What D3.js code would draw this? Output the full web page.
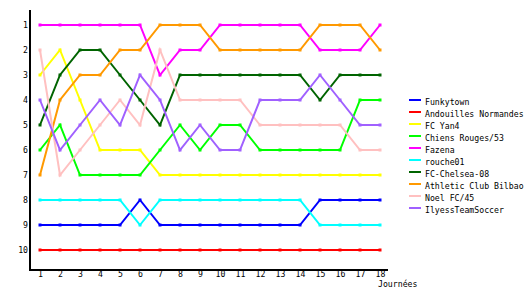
<!DOCTYPE html>
<html><head><meta charset="utf-8">
<script src="https://cdn.jsdelivr.net/npm/d3@7"></script>
<style>body{margin:0;background:#fff}svg{display:block}text{font-family:"DejaVu Sans Mono",monospace;font-size:8.2px;fill:#000}</style>
</head><body><svg id="c" width="530" height="300"></svg>
<script>
const rounds = d3.range(1, 19);
const teams = ["Funkytown","Andouilles Normandes","FC Yan4","Chiens Rouges/53","Fazena","rouche01","FC-Chelsea-08","Athletic Club Bilbao","Noel FC/45","IlyessTeamSoccer"];
const colors = ["#0000ff","#ff0000","#ffff00","#00ff00","#ff00ff","#00ffff","#006400","#ff9900","#ffc0c0","#a060ff"];
const funkytown = [9,9,9,9,9,8,9,9,9,9,9,9,9,9,8,8,8,8];
const andouilles = [10,10,10,10,10,10,10,10,10,10,10,10,10,10,10,10,10,10];
const fcYan4 = [3,2,4,6,6,6,7,7,7,7,7,7,7,7,7,7,7,7];
const chiensRouges = [6,5,7,7,7,7,6,5,6,5,5,6,6,6,6,6,4,4];
const fazena = [1,1,1,1,1,1,3,2,2,1,1,1,1,1,2,2,2,1];
const rouche01 = [8,8,8,8,8,9,8,8,8,8,8,8,8,8,9,9,9,9];
const chelsea = [5,3,2,2,3,4,5,3,3,3,3,3,3,3,4,3,3,3];
const bilbao = [7,4,3,3,2,2,1,1,1,2,2,2,2,2,1,1,1,2];
const noel = [2,7,6,5,4,5,2,4,4,4,4,5,5,5,5,5,6,6];
const ilyess = [4,6,5,4,5,3,4,6,5,6,6,4,4,4,3,4,5,5];
const series = [funkytown,andouilles,fcYan4,chiensRouges,fazena,rouche01,chelsea,bilbao,noel,ilyess];
const yTicks = d3.range(1, 11);
const xLabel = "Journées";

const svg = d3.select("#c");
const x = d3.scaleLinear().domain([1, 18]).range([40, 380]);
const y = d3.scaleLinear().domain([0, 10.8]).range([0, 270]);

// axes
const yAxis = d3.axisLeft(y).tickValues(yTicks).tickSize(0).tickPadding(0).tickFormat(d3.format("d"));
const gy = svg.append("g").attr("transform","translate(29,0)").call(yAxis);
gy.select(".domain").remove();
gy.selectAll("text").attr("x",-1).attr("dy","0.35em").style("font-size","8.2px").style("font-family","DejaVu Sans Mono, monospace");
const xAxis = d3.axisBottom(x).tickValues(rounds).tickSize(0).tickPadding(0).tickFormat(d3.format("d"));
const gx = svg.append("g").attr("transform","translate(0,277)").call(xAxis);
gx.select(".domain").remove();
gx.selectAll("text").attr("y",0).attr("dy","0").style("font-size","8.2px").style("font-family","DejaVu Sans Mono, monospace");

svg.append("line").attr("x1",30).attr("x2",30).attr("y1",10).attr("y2",271).attr("stroke","#000").attr("stroke-width",2).attr("shape-rendering","crispEdges");
svg.append("line").attr("x1",29).attr("x2",388).attr("y1",270).attr("y2",270).attr("stroke","#000").attr("stroke-width",2).attr("shape-rendering","crispEdges");
svg.append("text").attr("x",378).attr("y",287).text(xLabel);

const line = d3.line().x((d,i)=>x(rounds[i])).y(d=>y(d));
series.forEach((s,k)=>{
  const g = svg.append("g");
  g.append("path").attr("d", line(s)).attr("fill","none").attr("stroke",colors[k]).attr("stroke-width",2);
  g.selectAll("rect").data(s).join("rect")
    .attr("x",(d,i)=>x(rounds[i])-1.5).attr("y",d=>y(d)-1.5).attr("width",3).attr("height",3).attr("fill",colors[k]);
});

// legend
const lg = svg.append("g");
teams.forEach((t,k)=>{
  const yy = 100 + k*12;
  lg.append("line").attr("x1",409).attr("x2",421).attr("y1",yy).attr("y2",yy).attr("stroke",colors[k]).attr("stroke-width",2).attr("shape-rendering","crispEdges");
  lg.append("text").attr("x",425).attr("y",yy+5).text(t);
});
</script></body></html>
